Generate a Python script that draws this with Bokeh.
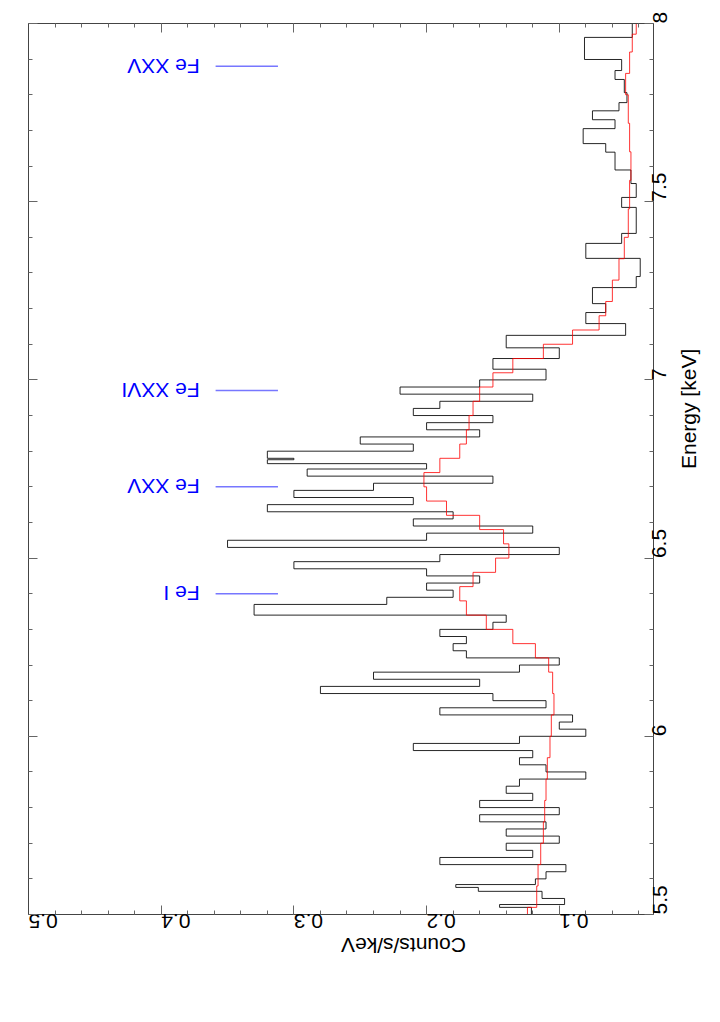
import math
from bokeh.plotting import figure
from bokeh.models import Range1d, LinearAxis, SingleIntervalTicker
from bokeh.core.properties import value
from bokeh.embed import file_html
from bokeh.resources import INLINE

# ---- observed spectrum: lower bin edges (keV) and counts/s/keV ----
data_lo = [5.500, 5.520, 5.528, 5.545, 5.565, 5.576, 5.584, 5.600, 5.620, 5.640,
           5.660, 5.680, 5.700, 5.720, 5.740, 5.760, 5.780, 5.800, 5.820, 5.840,
           5.860, 5.880, 5.900, 5.920, 5.940, 5.960, 5.980, 6.000, 6.020, 6.040,
           6.060, 6.080, 6.100, 6.120, 6.140, 6.160, 6.180, 6.200, 6.220, 6.240,
           6.260, 6.280, 6.300, 6.320, 6.340, 6.370, 6.390, 6.410, 6.430, 6.450,
           6.470, 6.490, 6.510, 6.530, 6.550, 6.570, 6.590, 6.610, 6.630, 6.650,
           6.670, 6.690, 6.710, 6.730, 6.750, 6.765, 6.776, 6.780, 6.800, 6.820,
           6.840, 6.860, 6.880, 6.900, 6.920, 6.940, 6.960, 6.980, 7.000, 7.030,
           7.060, 7.090, 7.125, 7.158, 7.189, 7.214, 7.259, 7.290, 7.341, 7.383,
           7.411, 7.484, 7.512, 7.551, 7.589, 7.639, 7.663, 7.705, 7.730, 7.755,
           7.778, 7.806, 7.843, 7.868, 7.899, 7.961]
data_vals = [0.121, 0.145, 0.096, 0.113, 0.161, 0.178, 0.118, 0.110, 0.095, 0.190,
             0.120, 0.140, 0.100, 0.140, 0.110, 0.160, 0.100, 0.160, 0.120, 0.140,
             0.130, 0.080, 0.110, 0.130, 0.120, 0.210, 0.130, 0.080, 0.100, 0.090,
             0.190, 0.110, 0.150, 0.280, 0.160, 0.240, 0.130, 0.100, 0.170, 0.180,
             0.170, 0.190, 0.150, 0.140, 0.330, 0.230, 0.180, 0.200, 0.160, 0.200,
             0.300, 0.190, 0.100, 0.350, 0.200, 0.120, 0.210, 0.180, 0.320, 0.210,
             0.300, 0.240, 0.150, 0.290, 0.200, 0.320, 0.300, 0.320, 0.210, 0.250,
             0.160, 0.200, 0.150, 0.210, 0.190, 0.120, 0.220, 0.160, 0.110, 0.150,
             0.100, 0.140, 0.050, 0.080, 0.065, 0.075, 0.042, 0.039, 0.080, 0.053,
             0.042, 0.053, 0.042, 0.046, 0.058, 0.065, 0.082, 0.058, 0.075, 0.055,
             0.049, 0.051, 0.058, 0.053, 0.081, 0.045]
data_hi_end = 8.0

# ---- model spectrum ----
model_lo = [5.50, 5.52, 5.58, 5.64, 5.70, 5.76, 5.82, 5.88, 5.94, 6.00, 6.06, 6.12,
            6.18, 6.22, 6.26, 6.30, 6.34, 6.38, 6.42, 6.46, 6.50, 6.54, 6.58, 6.62,
            6.66, 6.70, 6.74, 6.78, 6.82, 6.86, 6.90, 6.94, 6.98, 7.02, 7.06, 7.10,
            7.14, 7.18, 7.22, 7.28, 7.34, 7.40, 7.48, 7.56, 7.64, 7.72, 7.80, 7.86,
            7.92, 7.97]
model_vals = [0.124, 0.117, 0.116, 0.114, 0.112, 0.111, 0.110, 0.109, 0.107, 0.106,
              0.104, 0.105, 0.108, 0.118, 0.135, 0.155, 0.170, 0.175, 0.165, 0.148,
              0.138, 0.142, 0.160, 0.185, 0.200, 0.202, 0.190, 0.175, 0.170, 0.168,
              0.165, 0.160, 0.150, 0.135, 0.112, 0.090, 0.070, 0.065, 0.060, 0.055,
              0.051, 0.048, 0.047, 0.046, 0.047, 0.048, 0.050, 0.047, 0.045, 0.042]
model_hi_end = 8.0

line_energies = [6.40, 6.70, 6.97, 7.88]
line_names = ["Fe I", "Fe XXV", "Fe XXVI", "Fe XXV"]

# ---- figure ----
W, H = 720, 1022
FL, FT, FR, FB = 28, 23, 653, 914   # frame edges in canvas pixels
p = figure(width=W, height=H, output_backend="svg", toolbar_location=None,
           x_range=Range1d(0.5, 0.029), y_range=Range1d(5.5, 8.0),
           x_axis_location=None, y_axis_location=None,
           min_border_left=FL, min_border_right=W - FR, min_border_top=FT,
           min_border_bottom=H - FB)
p.outline_line_color = None
p.grid.visible = False
p.background_fill_color = "white"

def style(ax):
    ax.axis_line_color = "#444444"
    ax.major_tick_line_color = "#666666"
    ax.minor_tick_line_color = "#666666"
    ax.major_tick_in = 9
    ax.major_tick_out = 0
    ax.minor_tick_in = 4
    ax.minor_tick_out = 0
    ax.major_label_text_font = "Liberation Sans"
    ax.major_label_text_font_size = "21px"
    ax.major_label_text_color = "black"
    ax.axis_label_text_font = "Liberation Sans"
    ax.axis_label_text_font_size = "21px"
    ax.axis_label_text_font_style = "normal"
    ax.axis_label_text_color = "black"

bx = LinearAxis(ticker=SingleIntervalTicker(interval=0.1, num_minor_ticks=5),
                axis_label="Counts/s/keV")
style(bx)
bx.major_label_orientation = math.pi
bx.axis_label_orientation = math.pi
bx.major_label_standoff = 6
bx.axis_label_standoff = 8
p.add_layout(bx, "below")

tx = LinearAxis(ticker=SingleIntervalTicker(interval=0.1, num_minor_ticks=5))
style(tx)
tx.major_label_text_font_size = "0px"
tx.major_label_text_alpha = 0
p.add_layout(tx, "above")

ry = LinearAxis(ticker=SingleIntervalTicker(interval=0.5, num_minor_ticks=5),
                axis_label="Energy [keV]")
style(ry)
ry.major_label_orientation = math.pi / 2
ry.axis_label_orientation = math.pi / 2
ry.major_label_standoff = 6
ry.axis_label_standoff = 12
p.add_layout(ry, "right")

ly = LinearAxis(ticker=SingleIntervalTicker(interval=0.5, num_minor_ticks=5))
style(ly)
ly.major_label_text_font_size = "0px"
ly.major_label_text_alpha = 0
p.add_layout(ly, "left")

# ---- histograms ----
def steps(lo, vals, end):
    edges = list(lo) + [end]
    ys, xs = [], []
    for i, v in enumerate(vals):
        ys += [edges[i], edges[i + 1]]
        xs += [v, v]
    return xs, ys

dx, dy = steps(data_lo, data_vals, data_hi_end)
mx, my = steps(model_lo, model_vals, model_hi_end)
p.line(dx, dy, line_color="black", line_width=1, line_alpha=0.85)
p.line(mx, my, line_color="red", line_width=1, line_alpha=0.8)

# ---- line markers ----
for e, name in zip(line_energies, line_names):
    p.line([0.359, 0.312], [e, e], line_color="#7777ff", line_width=1.5)
    p.text(x=[0.371], y=[e], text=[name], angle=math.pi, text_color="blue",
           text_font=value("Liberation Sans"), text_font_size="21px",
           text_align="left", text_baseline="alphabetic")

open("out.html", "w").write(file_html(p, INLINE))
